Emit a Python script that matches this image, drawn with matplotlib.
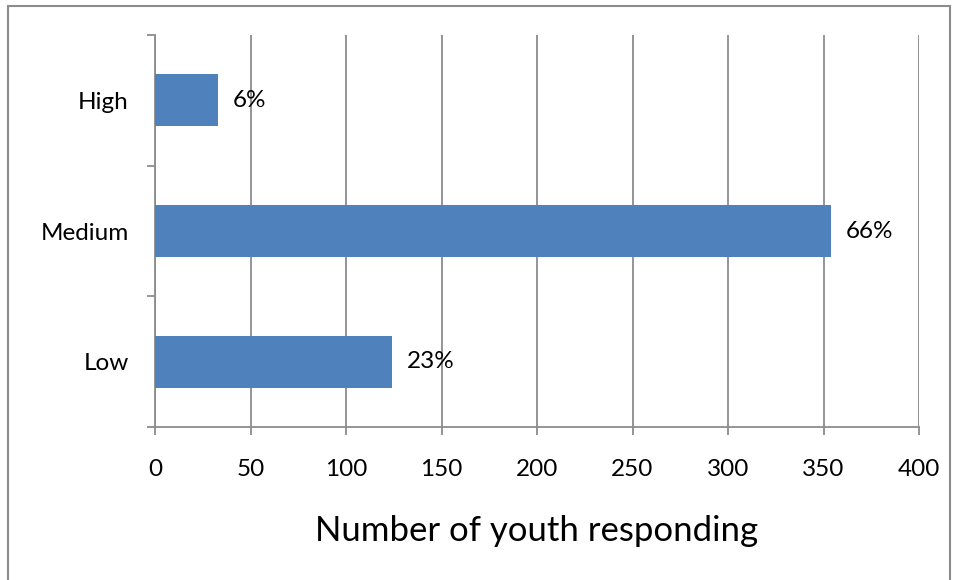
import matplotlib
matplotlib.use("Agg")
import matplotlib.pyplot as plt
from matplotlib.patches import Rectangle

categories = ["Low", "Medium", "High"]
values = [124, 354, 33]
pct_labels = ["23%", "66%", "6%"]
xticks = [0, 50, 100, 150, 200, 250, 300, 350, 400]

plt.rcParams['font.family'] = ['Lato', 'DejaVu Sans']

fig = plt.figure(figsize=(9.58, 5.8), dpi=100)
ax = fig.add_axes([155/958, (580-427)/580, 764/958, 392/580])

grid_c = "#8c8c8c"
ypos = list(range(len(categories)))
ax.barh(ypos, values, height=0.4, color="#4F81BD", zorder=3)

ax.set_xlim(0, 400)
ax.set_ylim(-0.5, 2.5)
ax.set_xticks(xticks)
ax.set_xticklabels([str(t) for t in xticks], fontsize=17.5)
ax.set_yticks(ypos)
ax.set_yticklabels(categories, fontsize=17.5)
ax.tick_params(axis='y', length=0, pad=19)
ax.set_yticks([-0.5, 0.5, 1.5, 2.5], minor=True)
ax.tick_params(axis='y', which='minor', length=6, color=grid_c, width=1.3)
ax.tick_params(axis='x', length=6, color=grid_c, width=1.3, pad=17)

ax.grid(axis='x', color=grid_c, linewidth=1.3, zorder=0)
for s in ['top', 'right']:
    ax.spines[s].set_visible(False)
for s in ['left', 'bottom']:
    ax.spines[s].set_color(grid_c)
    ax.spines[s].set_linewidth(1.3)

for y, v, lab in zip(ypos, values, pct_labels):
    ax.annotate(lab, (v, y), xytext=(15, 0), textcoords='offset pixels',
                va='center', ha='left', fontsize=17.5)

ax.set_xlabel("Number of youth responding", fontsize=25, labelpad=25)

fig.patches.append(Rectangle((8/958, -0.05), (950-8)/958, 1.05 - 6/580, transform=fig.transFigure,
                             fill=False, edgecolor="#8c8c8c", linewidth=1.5))

fig.savefig("out.png", dpi=100)
